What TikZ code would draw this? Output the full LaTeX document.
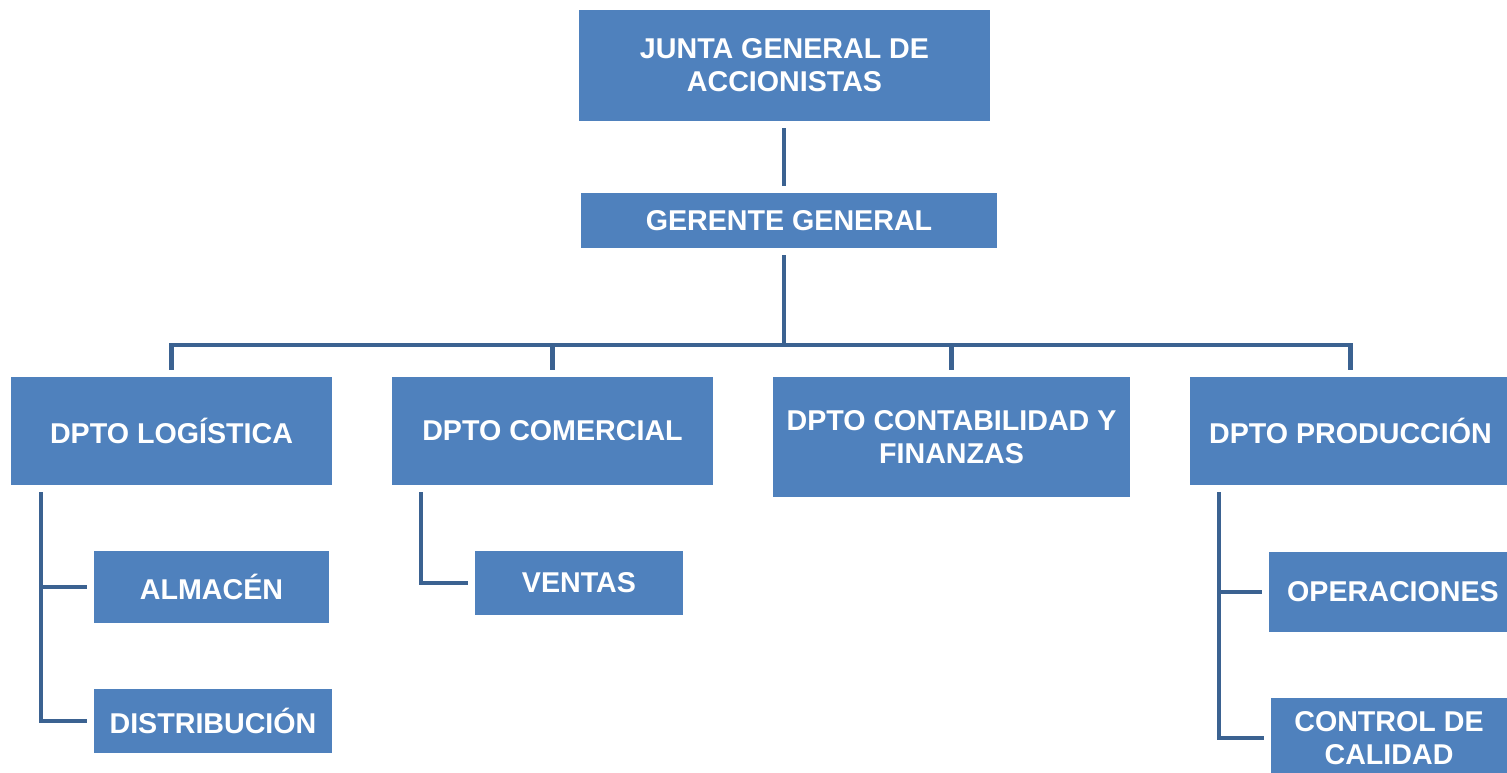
\documentclass[tikz,border=0pt]{standalone}
\usepackage{fontspec}
\setmainfont{Liberation Sans}
\usetikzlibrary{positioning}

\begin{document}
\begin{tikzpicture}[x=0.02cm,y=-0.02cm,
		box/.style={fill=boxblue,text=white,inner sep=0pt,align=center,
			font=\bfseries\fontsize{16.3}{18.7}\selectfont},
		link/.style={draw=lineblue,line width=2.3pt,shorten <=0.14cm,shorten >=0.13cm}]
		\definecolor{boxblue}{HTML}{4F81BD}
		\definecolor{lineblue}{HTML}{3B6291}
		\useasboundingbox (0,0) rectangle (1507,773);
		% Junta und Gerente
		\node[box,minimum width=8.22cm,minimum height=2.22cm] (junta) at (784.5,65.5) {JUNTA GENERAL DE\\ACCIONISTAS};
		\node[box,minimum width=8.32cm,minimum height=1.1cm] (gerente) at (789,220.5) {GERENTE GENERAL};
		% Departamentos
		\node[box,minimum width=6.42cm,minimum height=2.16cm] (logistica) at (171.5,431) {DPTO LOGÍSTICA};
		\node[box,minimum width=6.42cm,minimum height=2.16cm] (comercial) at (552.5,431) {DPTO COMERCIAL};
		\node[box,minimum width=7.14cm,minimum height=2.4cm] (contabilidad) at (951.5,437) {DPTO CONTABILIDAD Y\\FINANZAS};
		\node[box,minimum width=6.42cm,minimum height=2.16cm] (produccion) at (1350.5,431) {DPTO PRODUCCIÓN};
		% Unterbereiche
		\node[box,minimum width=4.7cm,minimum height=1.44cm] (almacen) at (211.5,587) {ALMACÉN};
		\node[box,minimum width=4.76cm,minimum height=1.28cm] (distribucion) at (213,721) {DISTRIBUCIÓN};
		\node[box,minimum width=4.16cm,minimum height=1.28cm] (ventas) at (579,583) {VENTAS};
		\node[box,minimum width=4.96cm,minimum height=1.6cm] (operaciones) at (1393,592) {OPERACIONES};
		\node[box,minimum width=4.72cm,minimum height=1.6cm] (calidad) at (1389,738) {CONTROL DE\\CALIDAD};
		% Verbindungen
		\coordinate (bus) at (784,345);
		\draw[link] (junta.south -| bus) -- (gerente.north -| bus);
		\draw[link,shorten >=0pt] (gerente.south -| bus) -- (bus);
		\draw[link] (logistica.north) |- (bus) -| (produccion.north);
		\draw[link,shorten <=0pt] (bus -| comercial.north) -- (comercial.north);
		\draw[link,shorten <=0pt] (bus -| contabilidad.north) -- (contabilidad.north);
		% Logistica
		\coordinate (logv) at ([xshift=0.6cm]logistica.south west);
		\draw[link] (logv) |- (distribucion.west);
		\draw[link,shorten <=0pt] (logv |- almacen.west) -- (almacen.west);
		% Comercial
		\coordinate (comv) at ([xshift=0.58cm]comercial.south west);
		\draw[link] (comv) |- (ventas.west);
		% Produccion
		\coordinate (prodv) at ([xshift=0.58cm]produccion.south west);
		\draw[link] (prodv) |- (calidad.west);
		\draw[link,shorten <=0pt] (prodv |- operaciones.west) -- (operaciones.west);
\end{tikzpicture}
\end{document}
